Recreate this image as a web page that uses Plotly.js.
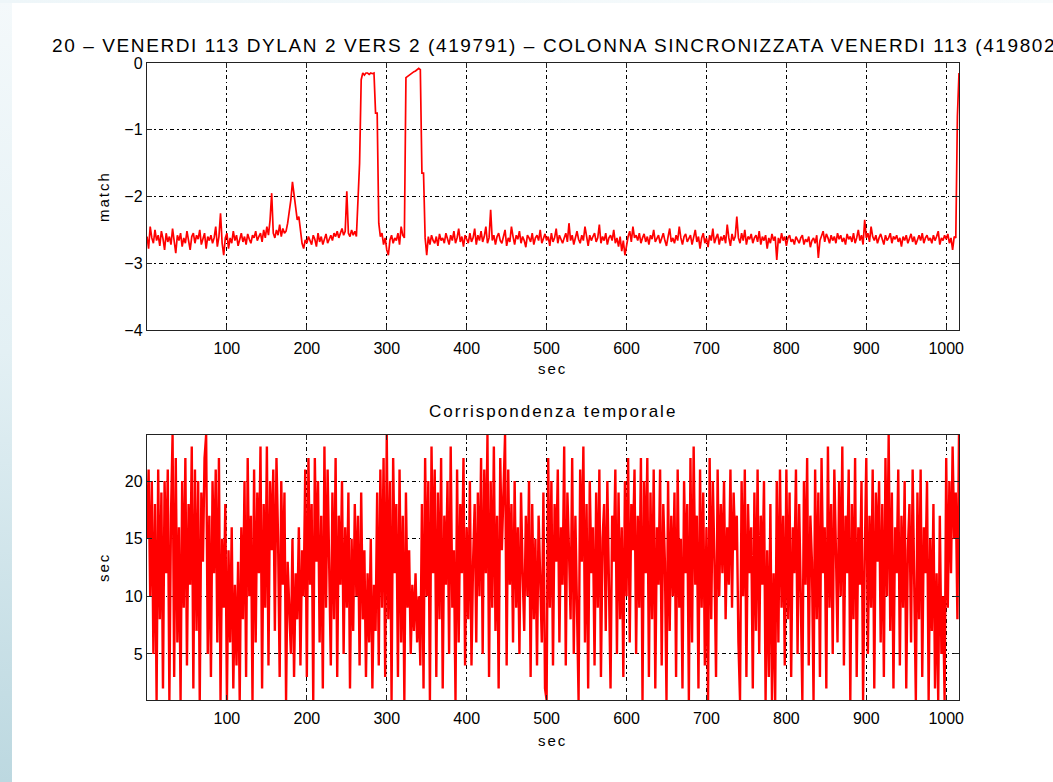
<!DOCTYPE html>
<html>
<head>
<meta charset="utf-8">
<script src="https://cdn.plot.ly/plotly-3.0.1.min.js"></script>
<style>
  html, body { margin: 0; padding: 0; background: #ffffff; }
  #wrap { position: relative; width: 1053px; height: 782px; overflow: hidden; background: #ffffff; }
  #strip { position: absolute; left: 0; top: 0; width: 12px; height: 782px;
           background: linear-gradient(to bottom, #f4f9fb 0%, #e3f0f4 45%, #bcd8e0 100%); }
  #topstrip { position: absolute; left: 0; top: 0; width: 1053px; height: 3px;
              background: linear-gradient(to right, #eef6f9, #f7fbfc); }
  #plot { position: absolute; left: 0; top: 0; width: 1053px; height: 782px; }
  #plot .gtitle { letter-spacing: 1.6px; }
  #plot .annotation-text { letter-spacing: 2px; }
</style>
</head>
<body>
<div id="wrap">
  <div id="strip"></div>
  <div id="topstrip"></div>
  <div id="plot"></div>
</div>
<script>
// ---------- data (sampled every 2 s from t = 0 to t = 1016) ----------
const sampleStart = 0;     // sec
const sampleStep = 2;      // sec

const matchValues = [
  -2.60,-2.78,-2.45,-2.62,-2.70,-2.50,-2.66,-2.58,-2.74,-2.52,
  -2.63,-2.80,-2.55,-2.68,-2.60,-2.72,-2.48,-2.65,-2.85,-2.58,
  -2.66,-2.55,-2.75,-2.62,-2.70,-2.52,-2.68,-2.80,-2.60,-2.55,
  -2.70,-2.58,-2.64,-2.50,-2.72,-2.62,-2.55,-2.78,-2.60,-2.66,
  -2.58,-2.70,-2.62,-2.45,-2.75,-2.60,-2.25,-2.70,-2.88,-2.62,
  -2.55,-2.78,-2.62,-2.70,-2.52,-2.66,-2.58,-2.74,-2.64,-2.55,
  -2.68,-2.60,-2.72,-2.56,-2.64,-2.70,-2.58,-2.62,-2.52,-2.66,
  -2.60,-2.55,-2.68,-2.50,-2.62,-2.45,-2.58,-2.35,-1.95,-2.55,
  -2.62,-2.50,-2.58,-2.42,-2.60,-2.48,-2.55,-2.52,-2.40,-2.25,
  -2.05,-1.78,-2.00,-2.20,-2.35,-2.30,-2.55,-2.70,-2.78,-2.65,
  -2.70,-2.60,-2.66,-2.72,-2.58,-2.64,-2.75,-2.55,-2.68,-2.60,
  -2.72,-2.62,-2.56,-2.70,-2.64,-2.58,-2.66,-2.55,-2.60,-2.52,
  -2.62,-2.55,-2.48,-2.58,-2.52,-1.92,-2.55,-2.60,-2.50,-2.58,
  -2.52,-2.60,-2.05,-1.50,-0.25,-0.15,-0.18,-0.15,-0.15,-0.17,
  -0.15,-0.16,-0.15,-0.75,-0.75,-2.40,-2.60,-2.55,-2.72,-2.62,
  -2.80,-2.88,-2.65,-2.58,-2.70,-2.62,-2.66,-2.55,-2.72,-2.45,
  -2.58,-2.62,-0.22,-0.20,-0.18,-0.17,-0.15,-0.13,-0.12,-0.10,
  -0.08,-0.10,-1.65,-1.65,-2.62,-2.88,-2.60,-2.72,-2.58,-2.66,
  -2.70,-2.60,-2.74,-2.56,-2.66,-2.62,-2.70,-2.55,-2.64,-2.72,
  -2.58,-2.66,-2.52,-2.70,-2.62,-2.48,-2.68,-2.60,-2.75,-2.58,
  -2.64,-2.70,-2.55,-2.68,-2.62,-2.48,-2.72,-2.58,-2.66,-2.52,
  -2.68,-2.60,-2.45,-2.70,-2.62,-2.20,-2.66,-2.58,-2.72,-2.60,
  -2.55,-2.66,-2.70,-2.58,-2.50,-2.74,-2.62,-2.68,-2.45,-2.60,
  -2.72,-2.58,-2.64,-2.52,-2.70,-2.60,-2.66,-2.76,-2.58,-2.62,
  -2.68,-2.55,-2.72,-2.62,-2.58,-2.66,-2.50,-2.70,-2.62,-2.56,
  -2.66,-2.60,-2.74,-2.55,-2.68,-2.62,-2.48,-2.70,-2.58,-2.64,
  -2.70,-2.62,-2.55,-2.68,-2.40,-2.66,-2.58,-2.72,-2.60,-2.52,
  -2.64,-2.70,-2.58,-2.66,-2.45,-2.62,-2.74,-2.58,-2.66,-2.60,
  -2.55,-2.68,-2.62,-2.42,-2.70,-2.60,-2.66,-2.55,-2.72,-2.62,
  -2.58,-2.66,-2.50,-2.70,-2.62,-2.75,-2.60,-2.82,-2.66,-2.88,
  -2.70,-2.60,-2.52,-2.68,-2.45,-2.62,-2.58,-2.66,-2.55,-2.70,
  -2.62,-2.56,-2.68,-2.60,-2.72,-2.58,-2.64,-2.50,-2.68,-2.62,
  -2.58,-2.70,-2.62,-2.55,-2.66,-2.74,-2.60,-2.48,-2.68,-2.62,
  -2.70,-2.58,-2.66,-2.45,-2.62,-2.72,-2.60,-2.56,-2.68,-2.64,
  -2.58,-2.72,-2.62,-2.50,-2.68,-2.60,-2.78,-2.62,-2.55,-2.70,
  -2.62,-2.76,-2.58,-2.66,-2.48,-2.70,-2.62,-2.56,-2.72,-2.60,
  -2.66,-2.58,-2.70,-2.42,-2.62,-2.74,-2.56,-2.66,-2.60,-2.30,
  -2.62,-2.70,-2.55,-2.66,-2.50,-2.72,-2.60,-2.64,-2.56,-2.70,
  -2.62,-2.58,-2.68,-2.52,-2.72,-2.60,-2.66,-2.58,-2.78,-2.62,
  -2.70,-2.56,-2.66,-2.60,-2.95,-2.62,-2.70,-2.55,-2.66,-2.60,
  -2.74,-2.62,-2.58,-2.68,-2.64,-2.72,-2.60,-2.66,-2.70,-2.62,
  -2.58,-2.72,-2.64,-2.68,-2.60,-2.76,-2.66,-2.62,-2.70,-2.58,
  -2.92,-2.66,-2.60,-2.52,-2.68,-2.56,-2.62,-2.70,-2.58,-2.66,
  -2.60,-2.70,-2.55,-2.64,-2.58,-2.68,-2.62,-2.72,-2.56,-2.64,
  -2.60,-2.68,-2.55,-2.70,-2.62,-2.50,-2.66,-2.58,-2.72,-2.35,
  -2.62,-2.55,-2.68,-2.45,-2.60,-2.66,-2.58,-2.70,-2.62,-2.56,
  -2.64,-2.72,-2.58,-2.66,-2.62,-2.55,-2.70,-2.60,-2.64,-2.58,
  -2.68,-2.62,-2.75,-2.60,-2.66,-2.58,-2.70,-2.62,-2.56,-2.68,
  -2.60,-2.72,-2.64,-2.58,-2.66,-2.55,-2.70,-2.62,-2.58,-2.66,
  -2.62,-2.70,-2.58,-2.66,-2.60,-2.52,-2.72,-2.62,-2.66,-2.58,
  -2.64,-2.56,-2.70,-2.62,-2.80,-2.60,-2.62,-0.80,-0.15
];

const timeValues = [
  15,21,10,20,5,18,1,21,8,19,
  2,20,12,21,1,17,24,3,22,6,
  16,1,20,9,22,4,18,11,23,2,
  21,7,20,1,19,13,22,24,5,17,
  3,20,12,21,6,22,1,15,9,18,
  1,14,6,16,2,11,4,13,1,16,
  8,20,3,22,10,17,1,21,6,19,
  12,23,2,18,9,23,4,20,14,21,
  7,22,15,3,20,11,19,1,13,9,
  5,15,3,12,8,16,4,14,10,21,
  3,22,11,18,1,22,13,20,6,17,
  2,23,9,21,14,4,19,8,22,3,
  17,11,20,5,16,9,19,2,15,7,
  18,10,17,4,19,8,14,3,12,6,
  15,2,11,7,19,4,21,9,22,3,
  24,8,20,1,22,12,18,3,21,6,
  17,1,19,9,14,5,11,7,12,6,
  10,4,18,2,22,10,20,1,23,12,
  21,3,19,8,22,2,17,11,20,5,
  23,9,14,1,21,6,18,12,22,4,
  16,8,20,4,13,18,6,19,10,22,
  5,21,12,24,3,20,9,23,7,17,
  2,22,14,19,24,4,21,11,18,6,
  20,9,16,5,19,12,7,17,10,20,
  3,18,8,15,4,17,11,6,19,2,
  1,22,9,20,4,18,13,21,6,16,
  11,23,4,19,14,8,22,5,17,10,
  1,21,13,23,6,18,2,20,12,16,
  4,19,9,21,3,15,18,7,20,11,
  2,17,13,21,5,19,8,16,3,20,
  10,22,6,18,14,21,5,17,9,22,
  1,20,12,22,3,19,8,21,2,16,
  11,21,4,18,13,1,20,7,17,10,
  19,3,21,9,15,2,20,12,18,1,
  22,6,23,11,17,2,21,9,19,4,
  16,1,22,8,20,13,3,21,10,18,
  12,20,8,16,11,21,9,19,14,17,
  6,1,20,10,21,3,18,12,16,2,
  19,7,21,5,17,11,20,1,14,3,
  18,1,12,1,20,6,21,9,17,4,
  21,8,19,3,16,12,21,5,18,10,
  1,20,11,22,4,17,13,1,21,8,
  19,3,22,12,16,2,23,9,18,5,
  21,14,6,20,10,23,4,17,12,21,
  1,18,8,22,3,16,11,20,1,13,
  22,5,17,9,21,2,19,13,20,6,
  18,3,22,10,24,7,19,2,16,12,
  21,4,17,9,20,2,14,18,6,21,
  11,1,19,8,21,3,16,12,20,1,
  15,7,18,2,12,1,17,5,10,1,
  22,9,20,12,23,15,19,8,24
];

const xTicks = [100, 200, 300, 400, 500, 600, 700, 800, 900, 1000];
const matchTicks = [-4, -3, -2, -1, 0];
const timeTicks = [5, 10, 15, 20];

const mainTitle = "20 – VENERDI 113 DYLAN 2 VERS 2 (419791) – COLONNA SINCRONIZZATA VENERDI 113 (419802)";
const subTitle = "Corrispondenza temporale";

// ---------- figure ----------
const W = 1053, H = 782;
const FONT = "Liberation Sans, Arial, Helvetica, sans-serif";
const px = v => v / W;
const py = v => 1 - v / H;

const axisCommon = {
  showline: true, linecolor: "#222", linewidth: 1.2, mirror: "ticks",
  ticks: "inside", ticklen: 5, tickwidth: 1, tickcolor: "#222",
  showgrid: true, gridcolor: "#000", gridwidth: 1, griddash: "4px,3px,1.5px,3px",
  zeroline: false,
  tickfont: { family: FONT, size: 16, color: "#000" },
  fixedrange: true
};

const traces = [
  {
    type: "scatter", mode: "lines",
    x0: sampleStart, dx: sampleStep, y: matchValues,
    xaxis: "x", yaxis: "y",
    line: { color: "#ff0000", width: 1.7 },
    hoverinfo: "skip", showlegend: false
  },
  {
    type: "scatter", mode: "lines",
    x0: sampleStart, dx: sampleStep, y: timeValues,
    xaxis: "x2", yaxis: "y2",
    line: { color: "#ff0000", width: 2.4 },
    hoverinfo: "skip", showlegend: false
  }
];

const layout = {
  width: W, height: H,
  margin: { l: 0, r: 0, t: 0, b: 0 },
  paper_bgcolor: "rgba(0,0,0,0)",
  plot_bgcolor: "#ffffff",
  showlegend: false,
  title: {
    text: mainTitle,
    xref: "container", yref: "container",
    x: 52 / W, xanchor: "left",
    y: 1 - 45 / H, yanchor: "middle",
    font: { family: FONT, size: 19, color: "#000" }
  },
  xaxis: Object.assign({}, axisCommon, {
    domain: [px(147), px(959)], anchor: "y",
    range: [0, 1016], tickvals: xTicks, ticklabelstandoff: 4
  }),
  yaxis: Object.assign({}, axisCommon, {
    domain: [py(330), py(63)], anchor: "x",
    range: [-4, 0], tickvals: matchTicks
  }),
  xaxis2: Object.assign({}, axisCommon, {
    domain: [px(147), px(959)], anchor: "y2",
    range: [0, 1016], tickvals: xTicks, ticklabelstandoff: 4
  }),
  yaxis2: Object.assign({}, axisCommon, {
    domain: [py(700), py(435)], anchor: "x2",
    range: [1, 24], tickvals: timeTicks
  }),
  annotations: [
    { text: subTitle, xref: "paper", yref: "paper", x: px(553), y: py(412),
      xanchor: "center", yanchor: "middle", showarrow: false,
      font: { family: FONT, size: 17, color: "#000" } },
    { text: "sec", xref: "paper", yref: "paper", x: px(553), y: py(368),
      xanchor: "center", yanchor: "middle", showarrow: false,
      font: { family: FONT, size: 15, color: "#000" } },
    { text: "sec", xref: "paper", yref: "paper", x: px(553), y: py(740),
      xanchor: "center", yanchor: "middle", showarrow: false,
      font: { family: FONT, size: 15, color: "#000" } },
    { text: "match", xref: "paper", yref: "paper", x: px(103), y: py(197),
      xanchor: "center", yanchor: "middle", showarrow: false, textangle: -90,
      font: { family: FONT, size: 15, color: "#000" } },
    { text: "sec", xref: "paper", yref: "paper", x: px(103), y: py(567),
      xanchor: "center", yanchor: "middle", showarrow: false, textangle: -90,
      font: { family: FONT, size: 15, color: "#000" } }
  ]
};

Plotly.newPlot("plot", traces, layout, { displayModeBar: false, staticPlot: true });
</script>
</body>
</html>
